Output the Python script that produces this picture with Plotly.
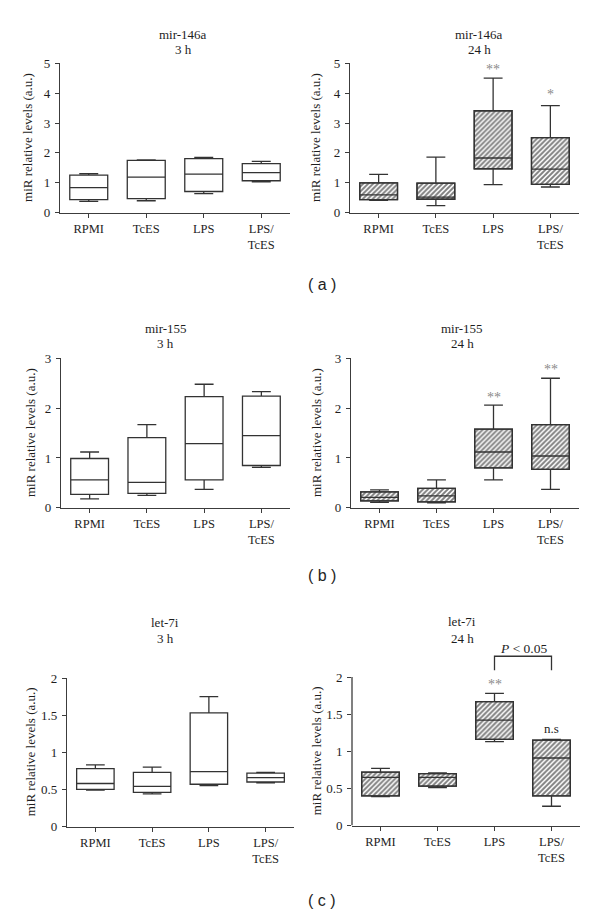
import plotly.graph_objects as go

W, H = 600, 921
# the page body adds an 8px margin around the figure; positions below are
# measured in the screenshot, so convert them with that offset
OFF = 8

CATEGORIES = ["RPMI", "TcES", "LPS", "LPS/<br>TcES"]

# mir-146a, 3 h
M146_3H_LOW = [0.38, 0.40, 0.64, 1.03]
M146_3H_Q1 = [0.44, 0.47, 0.71, 1.07]
M146_3H_MED = [0.84, 1.19, 1.29, 1.34]
M146_3H_Q3 = [1.26, 1.75, 1.81, 1.64]
M146_3H_HIGH = [1.31, 1.77, 1.85, 1.72]

# mir-146a, 24 h
M146_24H_LOW = [0.41, 0.24, 0.94, 0.86]
M146_24H_Q1 = [0.44, 0.45, 1.47, 0.95]
M146_24H_MED = [0.60, 0.52, 1.83, 1.46]
M146_24H_Q3 = [1.00, 0.99, 3.41, 2.51]
M146_24H_HIGH = [1.28, 1.86, 4.50, 3.58]

# mir-155, 3 h
M155_3H_LOW = [0.18, 0.25, 0.37, 0.81]
M155_3H_Q1 = [0.27, 0.29, 0.56, 0.85]
M155_3H_MED = [0.56, 0.51, 1.29, 1.45]
M155_3H_Q3 = [0.99, 1.41, 2.23, 2.24]
M155_3H_HIGH = [1.12, 1.67, 2.48, 2.33]

# mir-155, 24 h
M155_24H_LOW = [0.11, 0.10, 0.56, 0.37]
M155_24H_Q1 = [0.14, 0.12, 0.80, 0.77]
M155_24H_MED = [0.21, 0.24, 1.12, 1.04]
M155_24H_Q3 = [0.32, 0.39, 1.58, 1.67]
M155_24H_HIGH = [0.36, 0.56, 2.06, 2.60]

# let-7i, 3 h
LET7_3H_LOW = [0.49, 0.44, 0.55, 0.59]
LET7_3H_Q1 = [0.50, 0.46, 0.57, 0.60]
LET7_3H_MED = [0.58, 0.54, 0.74, 0.66]
LET7_3H_Q3 = [0.78, 0.73, 1.53, 0.72]
LET7_3H_HIGH = [0.83, 0.80, 1.75, 0.73]

# let-7i, 24 h
LET7_24H_LOW = [0.39, 0.51, 1.13, 0.26]
LET7_24H_Q1 = [0.40, 0.53, 1.16, 0.40]
LET7_24H_MED = [0.65, 0.65, 1.42, 0.91]
LET7_24H_Q3 = [0.72, 0.70, 1.67, 1.15]
LET7_24H_HIGH = [0.77, 0.71, 1.78, 1.16]

# significance marks: (category, y value, text)
SIG_146_24H = [("LPS", 4.80, "**"), ("LPS/<br>TcES", 3.95, "*")]
SIG_155_24H = [("LPS", 2.22, "**"), ("LPS/<br>TcES", 2.78, "**")]
SIG_LET7_24H = [("LPS", 1.90, "**")]
NS_LET7_24H = [("LPS/<br>TcES", 1.31, "n.s")]
BRACKET_LET7_24H = dict(left="LPS", right="LPS/<br>TcES", top=2.28, bottom=2.09,
                        label="<i>P</i> &lt; 0.05", label_y=2.39)

Y_TITLE = "miR relative levels (a.u.)"

SERIF = "Liberation Serif"
SANS = "Liberation Sans"
LINE = "#333333"
AXIS = "#3c3c3c"
TEXT = "#1e1e1e"
STAR = "#8a8a8a"
BOXW = 0.66


def px_x(v):
    return (v - OFF) / W


def px_y(v):
    return 1 - (v - OFF) / H


panels = [
    dict(title="mir-146a", time="3 h", stats=(M146_3H_LOW, M146_3H_Q1, M146_3H_MED, M146_3H_Q3, M146_3H_HIGH),
         hatched=False, ytop=5, yticks=[0, 1, 2, 3, 4, 5], axtop=5,
         px_x=(60, 290), px_y0=209, px_ytop=57, title_x=183, title_y=(28, 43), ytitle_x=28),
    dict(title="mir-146a", time="24 h", stats=(M146_24H_LOW, M146_24H_Q1, M146_24H_MED, M146_24H_Q3, M146_24H_HIGH),
         hatched=True, ytop=5, yticks=[0, 1, 2, 3, 4, 5], axtop=5,
         px_x=(350, 579), px_y0=209, px_ytop=57, title_x=479, title_y=(28, 43), ytitle_x=316,
         sig=SIG_146_24H),
    dict(title="mir-155", time="3 h", stats=(M155_3H_LOW, M155_3H_Q1, M155_3H_MED, M155_3H_Q3, M155_3H_HIGH),
         hatched=False, ytop=3, yticks=[0, 1, 2, 3], axtop=3,
         px_x=(61, 290), px_y0=509, px_ytop=357, title_x=166, title_y=(327, 342), ytitle_x=30),
    dict(title="mir-155", time="24 h", stats=(M155_24H_LOW, M155_24H_Q1, M155_24H_MED, M155_24H_Q3, M155_24H_HIGH),
         hatched=True, ytop=3, yticks=[0, 1, 2, 3], axtop=3,
         px_x=(351, 579), px_y0=509, px_ytop=357, title_x=462, title_y=(327, 342), ytitle_x=316,
         sig=SIG_155_24H),
    dict(title="let-7i", time="3 h", stats=(LET7_3H_LOW, LET7_3H_Q1, LET7_3H_MED, LET7_3H_Q3, LET7_3H_HIGH),
         hatched=False, ytop=2, yticks=[0, 0.5, 1, 1.5, 2], axtop=2,
         px_x=(67, 294), px_y0=833, px_ytop=682, title_x=165, title_y=(626, 642), ytitle_x=30),
    dict(title="let-7i", time="24 h", stats=(LET7_24H_LOW, LET7_24H_Q1, LET7_24H_MED, LET7_24H_Q3, LET7_24H_HIGH),
         hatched=True, ytop=2.45, yticks=[0, 0.5, 1, 1.5, 2], axtop=2,
         px_x=(352, 580), px_y0=832, px_ytop=681, title_x=462, title_y=(625, 642), ytitle_x=316,
         sig=SIG_LET7_24H, ns=NS_LET7_24H, bracket=BRACKET_LET7_24H),
]

PANEL_LABELS = [("( a )", 322, 282), ("( b )", 322, 578), ("( c )", 322, 908)]

xpos = list(range(len(CATEGORIES)))

fig = go.Figure()
annotations = []
shapes = []
layout = {}

for i, p in enumerate(panels, start=1):
    xa, ya = f"x{i}", f"y{i}"
    low, q1, med, q3, high = p["stats"]
    if p["hatched"]:
        fig.add_trace(go.Bar(
            x=xpos, y=[b - a for a, b in zip(q1, q3)], base=q1, width=BOXW,
            marker=dict(color="white",
                        pattern=dict(shape="/", fgcolor="#000000", bgcolor="white", size=3.5, solidity=0.55),
                        line=dict(color=LINE, width=1.3)),
            xaxis=xa, yaxis=ya, showlegend=False, hoverinfo="skip"))
    fig.add_trace(go.Box(
        x=xpos, q1=q1, median=med, q3=q3, lowerfence=low, upperfence=high,
        width=BOXW, whiskerwidth=0.5, orientation="v", boxpoints=False,
        line=dict(color=LINE, width=1.3),
        fillcolor="rgba(0,0,0,0)" if p["hatched"] else "white",
        xaxis=xa, yaxis=ya, showlegend=False))

    unit = (p["px_y0"] - p["px_ytop"]) / p["axtop"]
    top_px = p["px_y0"] - unit * p["ytop"]
    dom_y = [px_y(p["px_y0"]), px_y(top_px)]
    dom_x = [px_x(p["px_x"][0]), px_x(p["px_x"][1])]
    full_line = p["ytop"] == p["axtop"]

    layout[f"xaxis{i}"] = dict(
        domain=dom_x, range=[-0.5, len(CATEGORIES) - 0.5], anchor=ya,
        tickvals=xpos, ticktext=CATEGORIES, showline=True, linecolor=AXIS, linewidth=1.3,
        ticks="outside", ticklen=4, tickwidth=1.2, tickcolor=AXIS, showgrid=False, zeroline=False,
        tickfont=dict(family=SERIF, size=12.5, color=TEXT), fixedrange=True)
    layout[f"yaxis{i}"] = dict(
        domain=dom_y, range=[0, p["ytop"]], anchor=xa,
        tickvals=p["yticks"], showline=full_line, linecolor=AXIS, linewidth=1.3,
        ticks="outside", ticklen=4, tickwidth=1.2, tickcolor=AXIS, showgrid=False, zeroline=False,
        ticklabelstandoff=2,
        tickfont=dict(family=SERIF, size=13, color=TEXT), fixedrange=True)
    if not full_line:
        shapes.append(dict(type="line", xref=f"{xa} domain", yref=ya, x0=0, x1=0, y0=0, y1=p["axtop"],
                           line=dict(color=AXIS, width=1.3)))

    annotations.append(dict(text=p["title"], xref="paper", yref="paper", x=px_x(p["title_x"]),
                            y=px_y(p["title_y"][0]), showarrow=False, xanchor="center", yanchor="middle",
                            font=dict(family=SERIF, size=13, color=TEXT)))
    annotations.append(dict(text=p["time"], xref="paper", yref="paper", x=px_x(p["title_x"]),
                            y=px_y(p["title_y"][1]), showarrow=False, xanchor="center", yanchor="middle",
                            font=dict(family=SERIF, size=13, color=TEXT)))
    mid_px = (p["px_y0"] + p["px_ytop"]) / 2
    annotations.append(dict(text=Y_TITLE, xref="paper", yref="paper", x=px_x(p["ytitle_x"]),
                            y=px_y(mid_px), showarrow=False, textangle=-90, xanchor="center",
                            yanchor="middle", font=dict(family=SERIF, size=13, color=TEXT)))

    for cat, yv, txt in p.get("sig", []):
        annotations.append(dict(text=txt, x=CATEGORIES.index(cat), y=yv, xref=xa, yref=ya,
                                showarrow=False, yanchor="middle",
                                font=dict(family=SERIF, size=14, color=STAR)))
    for cat, yv, txt in p.get("ns", []):
        annotations.append(dict(text=txt, x=CATEGORIES.index(cat), y=yv, xref=xa, yref=ya,
                                showarrow=False, yanchor="middle",
                                font=dict(family=SERIF, size=13, color=TEXT)))
    if "bracket" in p:
        b = p["bracket"]
        xl, xr = CATEGORIES.index(b["left"]), CATEGORIES.index(b["right"])
        shapes.append(dict(type="path", xref=xa, yref=ya,
                           path=f"M {xl},{b['bottom']} L {xl},{b['top']} L {xr},{b['top']} L {xr},{b['bottom']}",
                           line=dict(color=LINE, width=1.3)))
        annotations.append(dict(text=b["label"], x=(xl + xr) / 2, y=b["label_y"], xref=xa, yref=ya,
                                showarrow=False, yanchor="middle",
                                font=dict(family=SERIF, size=13.5, color=TEXT)))

for txt, x, y in PANEL_LABELS:
    annotations.append(dict(text=txt, xref="paper", yref="paper", x=px_x(x), y=px_y(y),
                            showarrow=False, xanchor="center", yanchor="middle",
                            font=dict(family=SANS, size=16, color=TEXT)))

fig.update_layout(
    width=W, height=H, margin=dict(l=0, r=0, t=0, b=0),
    paper_bgcolor="white", plot_bgcolor="white",
    showlegend=False, barmode="overlay", boxmode="overlay",
    annotations=annotations, shapes=shapes, **layout)

fig.write_html("out.html")
